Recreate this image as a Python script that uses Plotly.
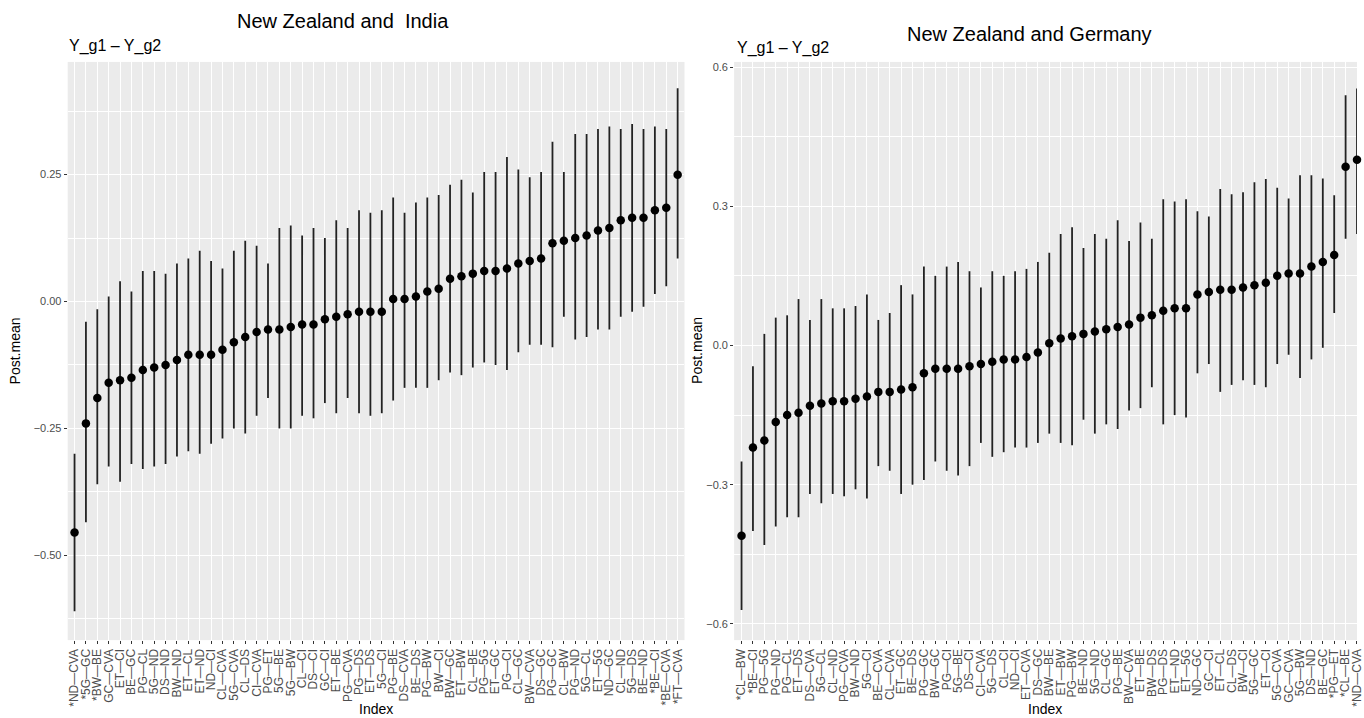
import plotly.graph_objects as go

# ---------------- Data: New Zealand and India ----------------
india_labels = ["*ND—CVA", "*5G—GC", "*BW—BE", "GC—CVA", "ET—CI", "BE—GC", "PG—CL", "5G—ND", "DS—ND",
                "BW—ND", "ET—CL", "ET—ND", "ND—CI", "CL—CVA", "5G—CVA", "CL—DS", "CI—CVA", "PG—ET",
                "5G—BE", "5G—BW", "CL—CI", "DS—CI", "GC—CI", "ET—BE", "PG—CVA", "PG—DS", "ET—DS",
                "5G—CI", "PG—BE", "DS—CVA", "BE—DS", "PG—BW", "BW—CI", "BW—GC", "ET—BW", "CL—BE",
                "PG—5G", "ET—GC", "PG—CI", "CL—GC", "BW—CVA", "DS—GC", "PG—GC", "CL—BW", "PG—ND",
                "5G—CL", "ET—5G", "ND—GC", "CL—ND", "5G—DS", "BE—ND", "*BE—CI", "*BE—CVA", "*FT—CVA"]
india_mean = [-0.455, -0.24, -0.19, -0.16, -0.155, -0.15, -0.135, -0.13, -0.125,
              -0.115, -0.105, -0.105, -0.105, -0.095, -0.08, -0.07, -0.06, -0.055,
              -0.055, -0.05, -0.045, -0.045, -0.035, -0.03, -0.025, -0.02, -0.02,
              -0.02, 0.005, 0.005, 0.01, 0.02, 0.025, 0.045, 0.05, 0.055,
              0.06, 0.06, 0.065, 0.075, 0.08, 0.085, 0.115, 0.12, 0.125,
              0.13, 0.14, 0.145, 0.16, 0.165, 0.165, 0.18, 0.185, 0.25]
india_lower = [-0.61, -0.435, -0.36, -0.325, -0.355, -0.32, -0.33, -0.325, -0.32,
               -0.305, -0.295, -0.30, -0.28, -0.27, -0.25, -0.26, -0.225, -0.19,
               -0.25, -0.25, -0.225, -0.23, -0.20, -0.22, -0.19, -0.22, -0.225,
               -0.22, -0.195, -0.17, -0.17, -0.17, -0.155, -0.14, -0.145, -0.13,
               -0.12, -0.125, -0.135, -0.10, -0.085, -0.085, -0.09, -0.03, -0.075,
               -0.07, -0.055, -0.055, -0.03, -0.02, -0.01, 0.015, 0.03, 0.085]
india_upper = [-0.30, -0.04, -0.015, 0.01, 0.04, 0.02, 0.06, 0.06, 0.055,
               0.075, 0.085, 0.10, 0.08, 0.065, 0.10, 0.12, 0.11, 0.075,
               0.145, 0.15, 0.13, 0.145, 0.125, 0.16, 0.145, 0.18, 0.175,
               0.18, 0.205, 0.175, 0.195, 0.205, 0.21, 0.23, 0.24, 0.215,
               0.255, 0.255, 0.285, 0.26, 0.245, 0.255, 0.315, 0.255, 0.33,
               0.33, 0.34, 0.345, 0.34, 0.35, 0.34, 0.345, 0.34, 0.42]

# ---------------- Data: New Zealand and Germany ----------------
germany_labels = ["*CL—BW", "*BE—CI", "PG—5G", "PG—ND", "PG—CL", "ET—DS", "DS—CVA", "5G—CL", "CL—ND",
                  "PG—CVA", "BW—ND", "5G—CI", "BE—CVA", "CL—CVA", "ET—GC", "BE—DS", "PG—GC", "BW—GC",
                  "PG—CI", "5G—BE", "DS—CI", "CI—CVA", "5G—DS", "CL—CI", "ND—CI", "ET—CVA", "DS—GC",
                  "BW—BE", "ET—BW", "PG—BW", "BE—ND", "5G—ND", "CL—GC", "PG—BE", "BW—CVA", "ET—BE",
                  "BW—DS", "PG—DS", "ET—ND", "ET—5G", "ND—GC", "GC—CI", "ET—CL", "CL—DS", "BW—CI",
                  "5G—GC", "ET—CI", "5G—CVA", "GC—CVA", "5G—BW", "DS—ND", "BE—GC", "*PG—ET", "*CL—BE",
                  "*ND—CVA"]
germany_mean = [-0.41, -0.22, -0.205, -0.165, -0.15, -0.145, -0.13, -0.125, -0.12,
                -0.12, -0.115, -0.11, -0.10, -0.10, -0.095, -0.09, -0.06, -0.05,
                -0.05, -0.05, -0.045, -0.04, -0.035, -0.03, -0.03, -0.025, -0.015,
                0.005, 0.015, 0.02, 0.025, 0.03, 0.035, 0.04, 0.045, 0.06,
                0.065, 0.075, 0.08, 0.08, 0.11, 0.115, 0.12, 0.12, 0.125,
                0.13, 0.135, 0.15, 0.155, 0.155, 0.17, 0.18, 0.195, 0.385,
                0.40]
germany_lower = [-0.57, -0.40, -0.43, -0.39, -0.37, -0.37, -0.32, -0.34, -0.32,
                 -0.325, -0.31, -0.33, -0.26, -0.27, -0.32, -0.30, -0.29, -0.25,
                 -0.27, -0.28, -0.26, -0.21, -0.24, -0.23, -0.22, -0.22, -0.21,
                 -0.19, -0.21, -0.215, -0.16, -0.19, -0.17, -0.18, -0.14, -0.135,
                 -0.09, -0.17, -0.15, -0.155, -0.06, -0.04, -0.10, -0.085, -0.075,
                 -0.085, -0.09, -0.04, -0.02, -0.07, -0.03, -0.005, 0.07, 0.23,
                 0.24]
germany_upper = [-0.25, -0.045, 0.025, 0.06, 0.065, 0.10, 0.055, 0.10, 0.08,
                 0.08, 0.085, 0.11, 0.055, 0.07, 0.13, 0.11, 0.17, 0.15,
                 0.17, 0.18, 0.16, 0.125, 0.16, 0.15, 0.16, 0.165, 0.18,
                 0.20, 0.24, 0.255, 0.21, 0.24, 0.23, 0.27, 0.225, 0.265,
                 0.23, 0.315, 0.31, 0.315, 0.289, 0.278, 0.337, 0.326, 0.33,
                 0.352, 0.359, 0.34, 0.317, 0.367, 0.367, 0.36, 0.324, 0.539,
                 0.554]


def make_trace(labels, mean, lower, upper, xa, ya):
    return go.Scatter(
        x=labels, y=mean, mode="markers", xaxis=xa, yaxis=ya,
        marker=dict(color="black", size=8.5),
        error_y=dict(type="data", symmetric=False,
                     array=[u - m for u, m in zip(upper, mean)],
                     arrayminus=[m - l for m, l in zip(mean, lower)],
                     color="#222222", thickness=1.8, width=0),
        showlegend=False, cliponaxis=False,
    )


fig = go.Figure()
fig.add_trace(make_trace(india_labels, india_mean, india_lower, india_upper, "x", "y"))
fig.add_trace(make_trace(germany_labels, germany_mean, germany_lower, germany_upper, "x2", "y2"))

FONT = "Liberation Sans, Arial, sans-serif"
x_common = dict(type="category", showgrid=True, gridcolor="white", gridwidth=1,
                tickmode="linear", tick0=0, dtick=1,
                ticks="outside", ticklen=3, tickcolor="#333333", tickangle=-90,
                tickfont=dict(size=12, color="#4D4D4D", family=FONT), zeroline=False,
                showline=False)
y_common = dict(showgrid=True, gridcolor="white", gridwidth=1.1, ticks="outside", ticklen=3,
                tickcolor="#333333", tickfont=dict(size=11, color="#4D4D4D", family=FONT),
                zeroline=False, showline=False)

fig.update_layout(
    width=1364, height=718,
    margin=dict(l=0, r=0, t=0, b=0),
    paper_bgcolor="white", plot_bgcolor="#EBEBEB",
    font=dict(family=FONT, color="black"),
    xaxis=dict(domain=[0.0499, 0.5044], range=[-0.6, 53.6], anchor="y",
               categoryorder="array", categoryarray=india_labels, **x_common),
    yaxis=dict(domain=[0.1086, 0.915], range=[-0.667, 0.472], anchor="x",
               tickvals=[-0.5, -0.25, 0.0, 0.25], ticktext=["−0.50", "−0.25", "0.00", "0.25"],
               minor=dict(showgrid=True, gridcolor="white", gridwidth=0.5,
                          tickvals=[-0.625, -0.375, -0.125, 0.125, 0.375]),
               **y_common),
    xaxis2=dict(domain=[0.541, 1.0], range=[-0.65, 54.0], anchor="y2",
                categoryorder="array", categoryarray=germany_labels, **x_common),
    yaxis2=dict(domain=[0.1086, 0.915], range=[-0.635, 0.611], anchor="x2",
                tickvals=[-0.6, -0.3, 0.0, 0.3, 0.6], ticktext=["−0.6", "−0.3", "0.0", "0.3", "0.6"],
                minor=dict(showgrid=True, gridcolor="white", gridwidth=0.5,
                           tickvals=[-0.45, -0.15, 0.15, 0.45]),
                **y_common),
)

ann = []
ann.append(dict(text="New Zealand and  India", x=345 / 1364, y=1 - 20 / 718, xref="paper", yref="paper",
                xanchor="center", yanchor="middle", showarrow=False, font=dict(size=20, color="black")))
ann.append(dict(text="New Zealand and Germany", x=1035 / 1364, y=1 - 33 / 718, xref="paper", yref="paper",
                xanchor="center", yanchor="middle", showarrow=False, font=dict(size=20, color="black")))
ann.append(dict(text="Y_g1 – Y_g2", x=67 / 1364, y=1 - 45 / 718, xref="paper", yref="paper",
                xanchor="left", yanchor="middle", showarrow=False, font=dict(size=16, color="black")))
ann.append(dict(text="Y_g1 – Y_g2", x=739 / 1364, y=1 - 47 / 718, xref="paper", yref="paper",
                xanchor="left", yanchor="middle", showarrow=False, font=dict(size=16, color="black")))
ann.append(dict(text="Post.mean", x=15 / 1364, y=1 - 350 / 718, xref="paper", yref="paper",
                xanchor="center", yanchor="middle", textangle=-90, showarrow=False,
                font=dict(size=14, color="black")))
ann.append(dict(text="Post.mean", x=700 / 1364, y=1 - 350 / 718, xref="paper", yref="paper",
                xanchor="center", yanchor="middle", textangle=-90, showarrow=False,
                font=dict(size=14, color="black")))
ann.append(dict(text="Index", x=378 / 1364, y=1 - 709 / 718, xref="paper", yref="paper",
                xanchor="center", yanchor="middle", showarrow=False, font=dict(size=14, color="black")))
ann.append(dict(text="Index", x=1050 / 1364, y=1 - 709 / 718, xref="paper", yref="paper",
                xanchor="center", yanchor="middle", showarrow=False, font=dict(size=14, color="black")))
fig.update_layout(annotations=ann)

fig.write_html("out.html", config={"displayModeBar": False},
               post_script="document.body.style.margin='0';document.body.style.overflow='hidden';")
